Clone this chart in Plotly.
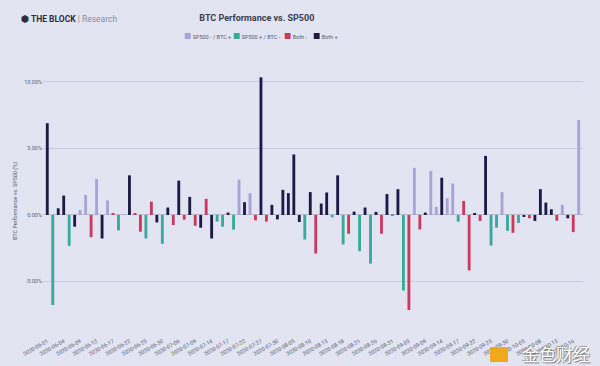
import plotly.graph_objects as go

# ---- data -------------------------------------------------------------
dates = [
    "2020-06-01", "2020-06-02", "2020-06-03", "2020-06-04", "2020-06-05", "2020-06-08",
    "2020-06-09", "2020-06-10", "2020-06-11", "2020-06-12", "2020-06-15", "2020-06-16",
    "2020-06-17", "2020-06-18", "2020-06-19", "2020-06-22", "2020-06-23", "2020-06-24",
    "2020-06-25", "2020-06-26", "2020-06-29", "2020-06-30", "2020-07-01", "2020-07-02",
    "2020-07-06", "2020-07-07", "2020-07-08", "2020-07-09", "2020-07-10", "2020-07-13",
    "2020-07-14", "2020-07-15", "2020-07-16", "2020-07-17", "2020-07-20", "2020-07-21",
    "2020-07-22", "2020-07-23", "2020-07-24", "2020-07-27", "2020-07-28", "2020-07-29",
    "2020-07-30", "2020-08-03", "2020-08-04", "2020-08-05", "2020-08-06", "2020-08-07",
    "2020-08-10", "2020-08-11", "2020-08-12", "2020-08-13", "2020-08-14", "2020-08-17",
    "2020-08-18", "2020-08-19", "2020-08-20", "2020-08-21", "2020-08-24", "2020-08-25",
    "2020-08-26", "2020-08-27", "2020-08-28", "2020-08-31", "2020-09-01", "2020-09-02",
    "2020-09-03", "2020-09-04", "2020-09-08", "2020-09-09", "2020-09-10", "2020-09-11",
    "2020-09-14", "2020-09-15", "2020-09-16", "2020-09-17", "2020-09-18", "2020-09-21",
    "2020-09-22", "2020-09-23", "2020-09-24", "2020-09-25", "2020-09-28", "2020-09-29",
    "2020-09-30", "2020-10-01", "2020-10-02", "2020-10-05", "2020-10-06", "2020-10-07",
    "2020-10-08", "2020-10-09", "2020-10-12", "2020-10-13", "2020-10-14", "2020-10-15",
    "2020-10-16", "2020-10-19",
]

values = [
    6.90, -6.77, 0.50, 1.46, -2.32, -0.88, 0.38, 1.50, -1.67, 2.70,
    -1.77, 1.09, 0.15, -1.16, 0.06, 2.98, 0.10, -1.26, -1.77, 1.00,
    -0.56, -2.17, 0.56, -0.76, 2.58, -0.35, 1.36, -0.81, -0.96, 1.21,
    -1.77, -0.50, -0.88, 0.18, -1.11, 2.65, 0.96, 1.64, -0.40, 10.35,
    -0.50, 0.76, -0.33, 1.89, 1.64, 4.55, -0.53, -1.84, 1.72, -2.90,
    0.86, 1.69, -0.18, 2.98, -2.22, -1.41, 0.25, -2.73, 0.56, -3.66,
    0.23, -1.41, 1.57, -0.03, 1.94, -5.68, -7.15, 3.54, -1.09, 0.18,
    3.31, 0.61, 2.80, 1.26, 2.37, -0.50, 1.06, -4.17, 0.15, -0.45,
    4.44, -2.30, -0.96, 1.72, -1.19, -1.34, -0.60, -0.15, -0.25, -0.45,
    1.94, 0.93, 0.43, -0.43, 0.76, -0.25, -1.29, 7.15,
]

# L = SP500 - / BTC + ; T = SP500 + / BTC - ; R = Both - ; N = Both +
groups = [
    "N", "T", "N", "N", "T", "N", "L", "L", "R", "L",
    "N", "L", "R", "T", "L", "N", "R", "R", "T", "R",
    "N", "T", "N", "R", "N", "R", "N", "R", "N", "R",
    "N", "T", "T", "N", "T", "L", "N", "L", "R", "N",
    "R", "N", "N", "N", "N", "N", "N", "T", "N", "R",
    "N", "N", "T", "N", "T", "R", "N", "T", "N", "T",
    "N", "R", "N", "T", "N", "T", "R", "L", "R", "N",
    "L", "L", "N", "L", "L", "T", "R", "R", "N", "R",
    "N", "T", "T", "L", "T", "R", "T", "N", "R", "N",
    "N", "N", "N", "R", "L", "N", "R", "L",
]

series_keys = ["L", "T", "R", "N"]
series_names = {
    "L": "SP500 - / BTC +",
    "T": "SP500 + / BTC -",
    "R": "Both -",
    "N": "Both +",
}
series_colors = {
    "L": "#a7a3d6",
    "T": "#39a89d",
    "R": "#c93a5c",
    "N": "#1b1a48",
}

tick_labels = dates[::3]
y_ticks = [-5, 0, 5, 10]

# ---- figure -----------------------------------------------------------
BG = "#e2e4f2"
FONT = "Roboto, Inter, sans-serif"
fig = go.Figure()
for key in series_keys:
    xs = [d for d, g in zip(dates, groups) if g == key]
    ys = [v for v, g in zip(values, groups) if g == key]
    fig.add_trace(go.Bar(
        x=xs, y=ys, name=series_names[key],
        marker=dict(color=series_colors[key], line=dict(width=0)),
    ))

fig.update_layout(
    width=600, height=366,
    paper_bgcolor=BG, plot_bgcolor=BG,
    margin=dict(l=43, r=17, t=74, b=38, autoexpand=False),
    barmode="overlay",
    bargap=0.48,
    font=dict(family=FONT, color="#555a6e", size=6),
    showlegend=False,
    title=dict(
        text="<b>BTC Performance vs. SP500</b>", xref="container", yref="container",
        x=0.428, xanchor="center", y=0.951, yanchor="middle",
        font=dict(size=9, color="#3a3d4e", family=FONT),
    ),
    xaxis=dict(
        type="category", categoryorder="array", categoryarray=dates,
        tickmode="array", tickvals=tick_labels, ticktext=tick_labels,
        tickangle=-30, tickfont=dict(size=5.5, color="#5a5e70"),
        ticklabelstandoff=8,
        showgrid=False, zeroline=False, showline=False, ticks="",
        range=[-0.78, 97.78], automargin=False,
    ),
    yaxis=dict(
        range=[-8.5, 10.6], tickvals=y_ticks,
        ticktext=[f"{v:.2f}%" for v in y_ticks],
        tickfont=dict(size=5.5, color="#5a5e70"),
        showgrid=True, gridcolor="#c9cbdd", gridwidth=1,
        zeroline=True, zerolinecolor="#b9bbcc", zerolinewidth=1,
        title=dict(text="BTC Performance vs. SP500 (%)", font=dict(size=5.5, color="#555a6e"), standoff=6),
        ticks="", showline=False, automargin=False,
    ),
)

# legend (drawn as text items)
legend_x = [0.257, 0.348, 0.443, 0.496]
for key, lx in zip(series_keys, legend_x):
    fig.add_annotation(
        text=f"<span style='color:{series_colors[key]};font-size:8px'>■</span> {series_names[key]}",
        xref="paper", yref="paper", x=lx, xanchor="left", y=1.146, yanchor="middle",
        showarrow=False, font=dict(size=5.5, color="#555a6e", family=FONT),
    )

# logo
fig.add_annotation(
    text="<b>⬢ THE BLOCK</b> <span style='color:#8a8c98'>| Research</span>",
    xref="paper", yref="paper", x=-0.045, xanchor="left", y=1.217, yanchor="middle",
    showarrow=False, font=dict(size=8.5, color="#2c2e3c", family=FONT),
)
# watermark
fig.add_shape(type="rect", xref="paper", yref="paper",
              x0=0.828, x1=0.861, y0=-0.134, y1=-0.075,
              fillcolor="#f0a81c", line=dict(width=0))
fig.add_annotation(
    text="金色财经", xref="paper", yref="paper", x=1.017, xanchor="right",
    y=-0.102, yanchor="middle", showarrow=False,
    font=dict(size=17, color="#ffffff", family="Noto Sans CJK SC",
              shadow="1px 1px 1px #777, -1px -1px 1px #999"),
)

fig.write_html("out.html", config={"displayModeBar": False},
               post_script="document.body.style.margin='0';")
